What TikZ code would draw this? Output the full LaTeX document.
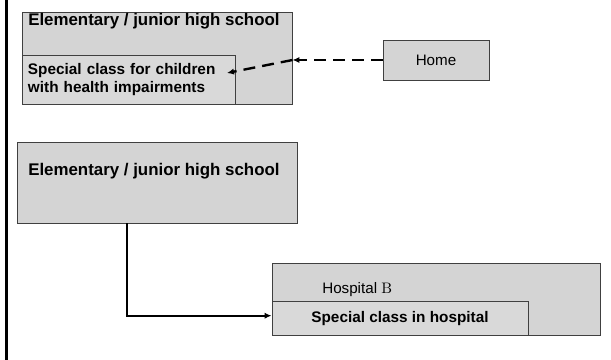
\documentclass[tikz,border=0pt]{standalone}
\usepackage{fontspec}
\setsansfont{Liberation Sans}
\usetikzlibrary{arrows.meta}
\begin{document}
\begin{tikzpicture}[x=0.025cm,y=-0.025cm,
        box/.style = {draw=black!75, fill=black!17, line width=0.6pt, inner sep=0pt},
        sub/.style = {draw=black!75, fill=black!15, line width=0.6pt, inner sep=0pt, font=\sffamily\bfseries\fontsize{10.9}{12.8}\selectfont},
        head/.style = {inner sep=0pt, anchor=west, font=\sffamily\bfseries\fontsize{12}{14}\selectfont},
        plain/.style = {inner sep=0pt, font=\sffamily\fontsize{10.8}{13}\selectfont},
        link/.style = {line width=1.7pt, -{Latex[length=5pt,width=4.5pt]}}]
        \useasboundingbox (0,0) rectangle (611,360);
        \draw[line width=1.6pt] (6.5,0) -- (6.5,360);
        % upper part
        \node[box, minimum width=6.75cm, minimum height=2.3cm] (sch1) at (157,58) {};
        \node[head] (t1) at (28,21.5) {Elementary / junior high school};
        \node[sub, minimum width=5.325cm, minimum height=1.225cm, text width=5.025cm, align=left] (cls1) at (128.5,79.5) {Special class for children\\with health impairments};
        \node[box, plain, minimum width=2.65cm, minimum height=1cm] (home) at (436,60) {Home};
        \coordinate (j) at (sch1.east |- home.west);
        \coordinate (k) at (227,73);
        \draw[link, dash pattern=on 8.5pt off 5pt] (home.west) -- (j);
        \draw[link, dash pattern=on 8.5pt off 5pt] (j) -- (k);
        % lower part
        \node[box, minimum width=7cm, minimum height=2.025cm] (sch2) at (157,182.5) {};
        \node[head] (t2) at (28,171.5) {Elementary / junior high school};
        \node[box, minimum width=8.2cm, minimum height=1.8cm] (hosp) at (436,299) {};
        \node[plain, anchor=west] (t3) at (322,290) {Hospital {\rmfamily B}};
        \node[sub, minimum width=6.4cm, minimum height=0.85cm] (cls2) at (400,318.5) {Special class in hospital};
        \draw[link] ([xshift=-0.75cm]sch2.south) |- ([yshift=0.07cm]cls2.west);
\end{tikzpicture}
\end{document}
